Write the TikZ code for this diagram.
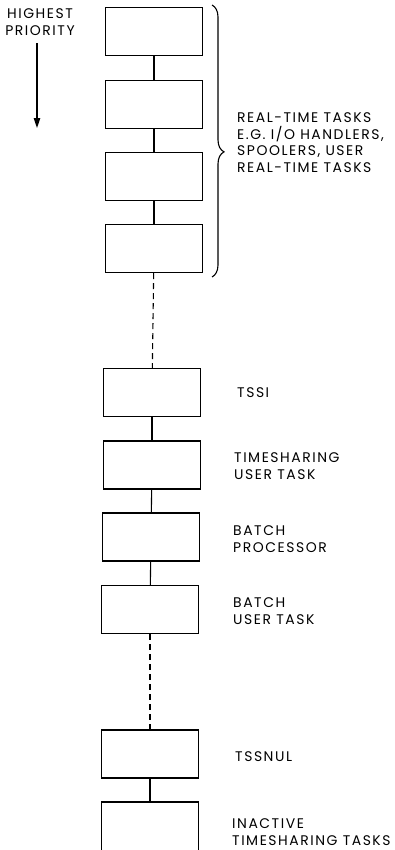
\documentclass[tikz,border=0pt]{standalone}
\usepackage{fontspec}
\setmainfont{Poppins}[LetterSpace=11]
\usetikzlibrary{decorations.pathreplacing,arrows.meta}
\begin{document}
\begin{tikzpicture}[x=1bp,y=-1bp,
  task/.style={draw,line width=1.1bp,minimum width=97bp,minimum height=48bp,inner sep=0pt},
  link/.style={line width=1.1bp},
  gap/.style={line width=1.1bp,dash pattern=on 6bp off 4bp},
  txt/.style={inner sep=0pt,font=\fontsize{14}{16.5}\selectfont},
  lbl/.style={txt,anchor=west,align=left}]
\useasboundingbox (0,0) rectangle (394,850);
\clip (0,0) rectangle (394,850);
% real-time group
\node[task] (r1) at (154,31.5) {};
\node[task] (r2) at (154,104.5) {};
\node[task] (r3) at (154,176.5) {};
\node[task] (r4) at (154,248.5) {};
% system and user tasks
\node[task] (tssi) at (152,392.5) {};
\node[task] (tsu) at (152,465) {};
\node[task] (bp) at (151,537) {};
\node[task] (bu) at (150,609.5) {};
\node[task] (nul) at (150,754) {};
\node[task,minimum height=52bp] (inact) at (150,828) {};
% chain
\draw[link] (r1) -- (r2);
\draw[link] (r2) -- (r3);
\draw[link] (r3) -- (r4);
\draw[gap] (r4) -- (tssi);
\draw[link] (tssi) -- (tsu);
\draw[link] (tsu) -- (bp);
\draw[link] (bp) -- (bu);
\draw[gap] (bu) -- (nul);
\draw[link] (nul) -- (inact);
% priority direction
\node[txt,align=center] (prio) at (40,22) {HIGHEST\\PRIORITY};
\coordinate (ptop) at (37,43);
\coordinate (pbot) at (37,128);
\draw[line width=1.1bp,-{Triangle[length=10bp,width=6.5bp]}] (ptop) -- (pbot);
% brace around real-time tasks
\coordinate (btop) at (212,5);
\coordinate (bbot) at (212,277);
\draw[line width=1.1bp,decorate,decoration={brace,amplitude=12bp,aspect=0.54}] (btop) -- (bbot);
% labels
\node[lbl] (lrt) at (237,142.5) {REAL-TIME TASKS\\E.G. I/O HANDLERS,\\SPOOLERS, USER\\REAL-TIME TASKS};
\node[lbl] (ltssi) at (237,392.5) {TSSI};
\node[lbl] (ltsu) at (234,466) {TIMESHARING\\USER TASK};
\node[lbl] (lbp) at (233,539) {BATCH\\PROCESSOR};
\node[lbl] (lbu) at (233,611) {BATCH\\USER TASK};
\node[lbl] (lnul) at (235,757) {TSSNUL};
\node[lbl] (lin) at (232,832) {INACTIVE\\TIMESHARING TASKS};
\end{tikzpicture}
\end{document}
